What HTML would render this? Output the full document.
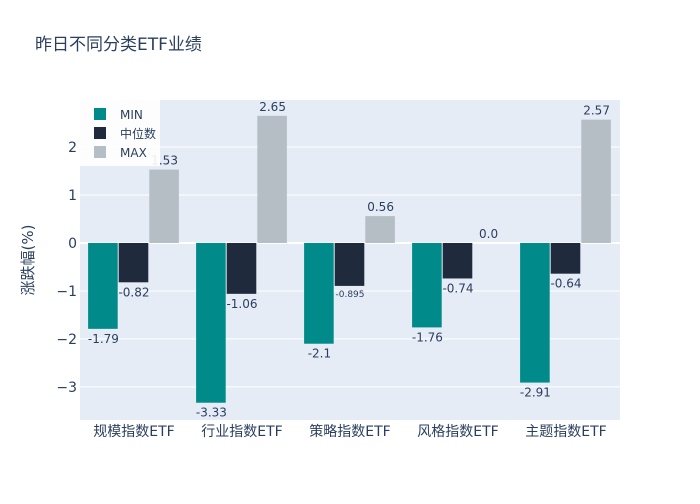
<!DOCTYPE html>
<html><head><meta charset="utf-8"><style>
body{margin:0;background:#fff;font-family:"DejaVu Sans","Noto Sans CJK SC",sans-serif}
svg text{font-family:"DejaVu Sans","Noto Sans CJK SC",sans-serif}
</style></head><body>
<svg id="chart" width="700" height="500" xmlns="http://www.w3.org/2000/svg">
<rect width="700" height="500" fill="#fff"/>
<text x="35" y="50" font-size="17" fill="#2a3f5f">昨日不同分类ETF业绩</text>
<rect x="80" y="100" width="540" height="320" fill="#e5ecf6"/>
<g id="grid"></g><g id="bars"></g><g id="labels"></g><g id="axes"></g>
<text transform="translate(33,260) rotate(-90)" text-anchor="middle" font-size="15" fill="#2a3f5f">涨跌幅(%)</text>
<g>
<rect x="80" y="100" width="80" height="66" fill="#fff" fill-opacity="0.9"/>
<rect x="94" y="108" width="12" height="12" fill="#008b8a"/>
<text x="120" y="119" font-size="12" fill="#2a3f5f">MIN</text>
<rect x="94" y="127" width="12" height="12" fill="#1f2a3c"/>
<text x="120" y="138" font-size="12" fill="#2a3f5f">中位数</text>
<rect x="94" y="146" width="12" height="12" fill="#b5bdc5"/>
<text x="120" y="157" font-size="12" fill="#2a3f5f">MAX</text>
</g>
</svg>
<script>
const categories=["规模指数ETF","行业指数ETF","策略指数ETF","风格指数ETF","主题指数ETF"];
const minVals=[-1.79,-3.33,-2.1,-1.76,-2.91];
const medVals=[-0.82,-1.06,-0.895,-0.74,-0.64];
const maxVals=[1.53,2.65,0.56,0.0,2.57];
const yTicks=[-3,-2,-1,0,1,2];
const tickLabels=["−3","−2","−1","0","1","2"];
const NS="http://www.w3.org/2000/svg";
const X0=80,W=540,Y0=100,H=320,yMin=-3.69,yMax=2.98;
const y=v=>Y0+(yMax-v)/(yMax-yMin)*H;
const band=W/categories.length;
const xc=i=>X0+band*(i+0.5);
function mk(tag,attrs,parent){const e=document.createElementNS(NS,tag);for(const k in attrs)e.setAttribute(k,attrs[k]);document.querySelector(parent).appendChild(e);return e;}
yTicks.forEach((t,i)=>{
 const l=mk('line',{x1:X0,x2:X0+W,y1:y(t),y2:y(t),stroke:'#fff','stroke-width':t===0?2:1},'#grid');
 
 
 const tx=mk('text',{x:X0-3,y:y(t)+5,'text-anchor':'end','font-size':14,fill:'#2a3f5f'},'#axes');
 tx.textContent=tickLabels[i];
 
 
});
const series=[{v:minVals,c:'#008b8a',n:'min'},{v:medVals,c:'#1f2a3c',n:'median'},{v:maxVals,c:'#b5bdc5',n:'max'}];
const bw=band*0.85/3;
categories.forEach((cat,i)=>{
 const start=xc(i)-bw*1.5;
 series.forEach((s,j)=>{
  const v=s.v[i],x=start+j*bw;
  const top=Math.min(y(v),y(0)),h=Math.abs(y(v)-y(0));
  const r=mk('rect',{x:x,y:top,width:bw-1,height:h,fill:s.c},'#bars');
  
  
  const small=Math.abs(v)===0.895;
  const t=mk('text',{x:x+bw/2,y:v>=0?top-5:top+h+(small?11:14),'text-anchor':'middle','font-size':small?9:12,fill:'#2a3f5f'},'#labels');
  t.textContent=v===0?'0.0':String(v);
  
  
 });
 const ct=mk('text',{x:xc(i),y:436,'text-anchor':'middle','font-size':14,fill:'#2a3f5f'},'#axes');
 ct.textContent=cat;
 
 
});
</script>
</body></html>
